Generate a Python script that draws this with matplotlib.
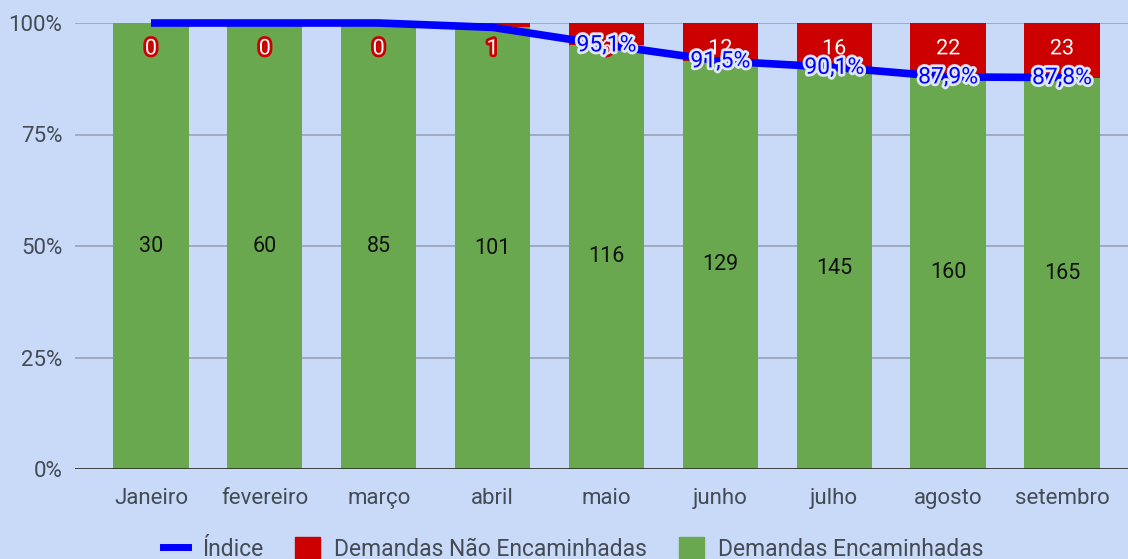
import matplotlib
matplotlib.use("Agg")
import matplotlib.pyplot as plt
import matplotlib.patheffects as pe
from matplotlib.lines import Line2D
from matplotlib.patches import Patch
import numpy as np

months = ["Janeiro", "fevereiro", "março", "abril", "maio", "junho", "julho", "agosto", "setembro"]
encaminhadas = [30, 60, 85, 101, 116, 129, 145, 160, 165]
nao_encaminhadas = [0, 0, 0, 1, 6, 12, 16, 22, 23]
show_index_label = [False, False, False, False, True, True, True, True, True]

BG = "#c9daf8"
GREEN = "#6aa84f"
RED = "#cc0000"
BLUE = "#0000ff"
TXT = "#444b55"

plt.rcParams['font.family'] = ['Roboto', 'DejaVu Sans']

enc = np.array(encaminhadas, float)
nao = np.array(nao_encaminhadas, float)
tot = enc + nao
pct_enc = enc / tot * 100
pct_nao = nao / tot * 100
indice = pct_enc

fig = plt.figure(figsize=(11.28, 5.59), dpi=100, facecolor=BG)
ax = fig.add_axes([75/1128, 1 - 469/559, 1 - 75/1128, (469 - 23)/559])
ax.set_facecolor(BG)

x = np.arange(len(months))
w = 0.66
ax.bar(x, pct_enc, width=w, color=GREEN, zorder=2)
ax.bar(x, pct_nao, bottom=pct_enc, width=w, color=RED, zorder=2)
ax.plot(x, indice, color=BLUE, lw=5.5, zorder=3, solid_capstyle='butt', clip_on=False)

ax.set_xlim(-0.667, len(months) - 1 + 0.58)
ax.set_ylim(0, 100)
ax.set_yticks([0, 25, 50, 75, 100])
ax.set_yticklabels(["0%", "25%", "50%", "75%", "100%"])
ax.grid(axis='y', color="#9aa7bd", lw=1.3, zorder=0)
ax.axhline(0, color="#222222", lw=1.8, zorder=4)
for s in ax.spines.values():
    s.set_visible(False)
ax.tick_params(axis='both', length=0, colors=TXT, labelsize=16)
ax.tick_params(axis='y', pad=9)
ax.tick_params(axis='x', pad=14)
ax.set_xticks(x)
ax.set_xticklabels(months)

# Labels
for i in range(len(months)):
    ax.text(x[i], pct_enc[i] / 2, f"{encaminhadas[i]}", ha='center', va='center',
            fontsize=15.5, color="#111111", zorder=5)
    ax.text(x[i], 100 - 5.8, f"{nao_encaminhadas[i]}", ha='center', va='center',
            fontsize=15.5, color="white", zorder=5,
            path_effects=[pe.withStroke(linewidth=4, foreground=RED)])
    if show_index_label[i]:
        lbl = f"{indice[i]:.1f}%".replace('.', ',')
        ax.text(x[i], indice[i], lbl, ha='center', va='center',
                fontsize=16.5, color=BLUE, zorder=6,
                path_effects=[pe.withStroke(linewidth=4, foreground="#dfe7fa")])

handles = [
    Line2D([0], [0], color=BLUE, lw=5),
    Patch(facecolor=RED, edgecolor=RED),
    Patch(facecolor=GREEN, edgecolor=GREEN),
]
labels = ["Índice", "Demandas Não Encaminhadas", "Demandas Encaminhadas"]
fig.legend(handles, labels, loc='center', bbox_to_anchor=(573/1128, 1 - 549/559), ncol=3,
           frameon=False, fontsize=16.5, labelcolor=TXT, handlelength=1.1,
           handleheight=1.0, columnspacing=1.4, handletextpad=0.6, borderpad=0)

fig.savefig("out.png", dpi=100, facecolor=BG)
